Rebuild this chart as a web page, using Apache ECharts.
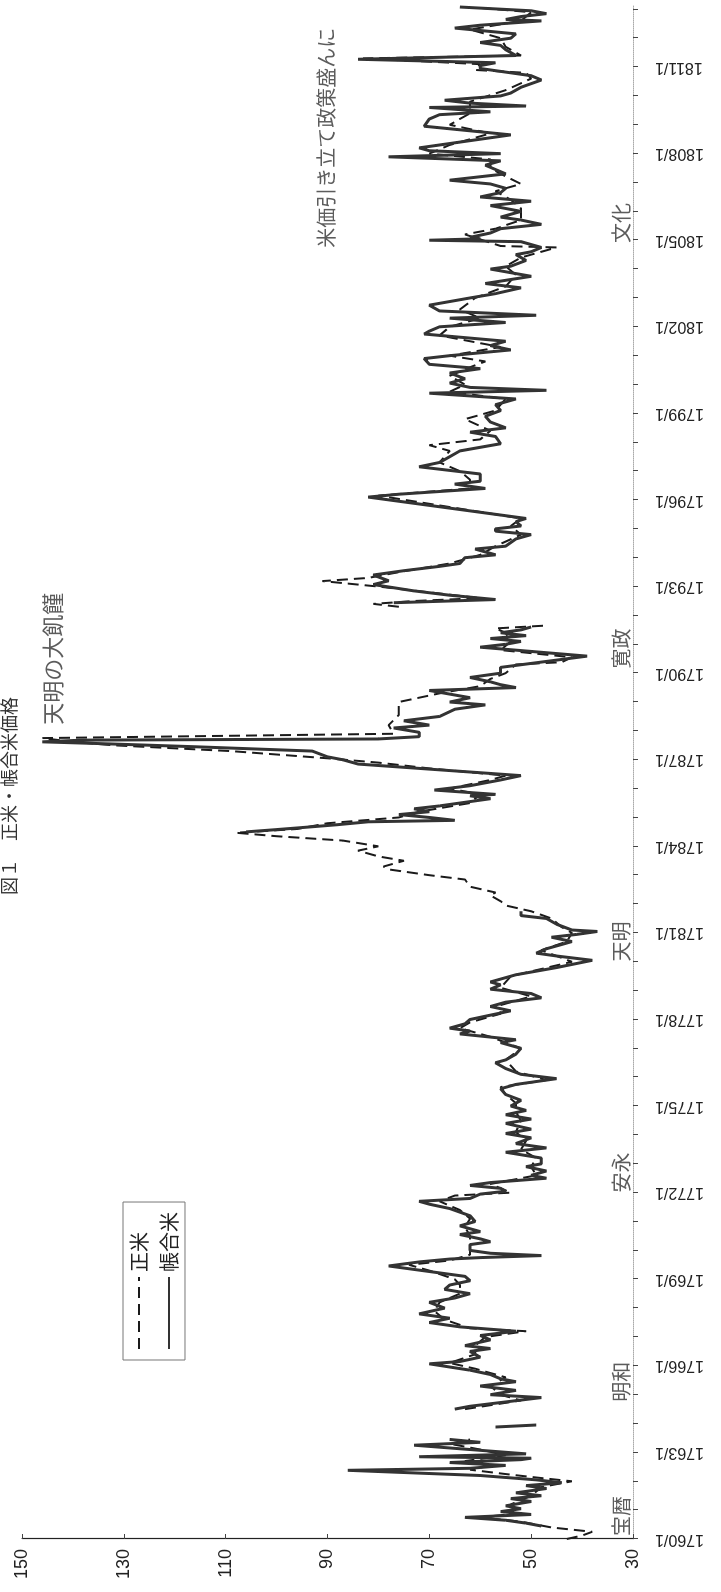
<!DOCTYPE html>
<html lang="ja">
<head>
<meta charset="utf-8">
<title>図１ 正米・帳合米価格</title>
<script src="https://cdn.jsdelivr.net/npm/echarts/dist/echarts.min.js"></script>
<style>
  html, body { margin: 0; padding: 0; background: #fff; overflow: hidden; }
  #page { position: relative; width: 721px; height: 1592px; overflow: hidden; background: #fff; }
  /* the landscape chart is laid on its side, time running bottom to top */
  #chart {
    position: absolute; left: 0; top: 0;
    width: 1592px; height: 721px;
    transform-origin: 0 0;
    transform: translate(0, 1592px) rotate(-90deg);
  }
</style>
</head>
<body>
<div id="page"><div id="chart"></div></div>
<script>
// ---- 帳合米 (rice futures), [year, price]; null marks a gap ----
const choai1760s = [
  [1760.45,48],[1760.55,51],[1760.65,55],[1760.75,63],[1760.85,50],[1760.95,56],[1761.05,52],[1761.15,55],
  [1761.3,50],[1761.4,54],[1761.5,48],[1761.6,53],[1761.75,47],[1761.85,51],[1761.95,44],[1762.05,49],
  [1762.2,60],[1762.38,86],[1762.45,62],[1762.55,55],[1762.65,66],[1762.75,52],[1762.8,50],[1762.85,72],
  [1762.95,51],[1763.1,62],[1763.25,73],[1763.35,60],[1763.45,66],[1763.6,null],[1763.88,57],[1763.95,49],
  [1764.2,null],[1764.5,65],[1764.6,62],[1764.9,48],[1765.0,58],[1765.15,53],[1765.3,60],[1765.45,53],
  [1765.55,56],[1765.7,58],[1765.85,62],[1766.07,70],[1766.15,64],[1766.3,60],[1766.5,62],[1766.6,58],
  [1766.7,63],[1766.9,58],[1767.05,60],[1767.2,53],[1767.35,64],[1767.5,70],[1767.65,66],[1767.8,72],
  [1768.0,67],[1768.2,70],[1768.35,65],[1768.5,62],[1768.65,67],[1768.8,66],[1768.95,62],[1769.1,63],
  [1769.46,78],[1769.6,72],[1769.7,66],[1769.75,60],[1769.82,48],[1769.9,58]
];
const choai1770s = [
  [1770.0,62],[1770.2,62],[1770.3,58],[1770.4,60],[1770.55,64],[1770.65,60],[1770.85,64],[1771.0,61],
  [1771.2,62],[1771.45,66],[1771.6,70],[1771.7,72],[1771.8,62],[1771.95,60],[1772.05,55],[1772.15,56],
  [1772.25,62],[1772.35,58],[1772.5,47],[1772.6,50],[1772.75,47],[1772.9,51],[1773.0,48],[1773.2,48],
  [1773.4,55],[1773.55,47],[1773.7,53],[1773.9,50],[1774.05,55],[1774.2,50],[1774.4,55],[1774.55,50],
  [1774.7,55],[1774.85,51],[1775.0,54],[1775.2,52],[1775.4,55],[1775.6,56],[1775.75,53],[1775.95,45],
  [1776.1,52],[1776.3,55],[1776.5,57],[1776.6,55],[1776.8,53],[1777.0,52],[1777.2,56],[1777.3,53],
  [1777.5,64],[1777.6,62],[1777.7,66],[1777.85,63],[1778.0,62],[1778.15,58],[1778.3,54],[1778.45,58],
  [1778.6,55],[1778.75,48],[1778.9,50],[1779.05,58],[1779.2,56],[1779.3,58],[1779.55,53],[1779.8,45]
];
const choai1780s = [
  [1780.05,38],[1780.2,45],[1780.3,49],[1780.45,47],[1780.6,44],[1780.7,42],[1780.85,46],[1780.95,41],
  [1781.05,37],[1781.1,42],[1781.3,45],[1781.5,47],[1781.6,52],[1781.75,52],[1781.8,null],
  [1784.5,106],[1784.58,100],[1784.65,95],[1784.75,88],[1784.85,82],[1784.9,65],[1785.0,70],[1785.1,76],
  [1785.2,70],[1785.3,73],[1785.4,68],[1785.5,64],[1785.65,58],[1785.75,62],[1785.8,57],[1785.95,69],
  [1786.1,62],[1786.3,56],[1786.45,52],[1786.85,84],[1787.0,87],[1787.1,90],[1787.3,93],[1787.45,116],
  [1787.55,133],[1787.62,146],[1787.68,138],[1787.72,80],[1787.8,72],[1787.95,72],[1788.1,77],[1788.2,70],
  [1788.35,75],[1788.5,68],[1788.75,65],[1788.9,59],[1789.0,66],[1789.15,62],[1789.4,70],[1789.5,53],
  [1789.6,56],[1789.7,58],[1789.85,62]
];
const choai1790s = [
  [1790.0,56],[1790.2,56],[1790.59,39],[1790.9,60],[1791.0,55],[1791.1,52],[1791.2,58],[1791.3,51],
  [1791.4,56],[1791.5,52],[1791.6,50],[1791.65,null],[1792.44,77],[1792.55,57],[1792.7,66],[1792.85,73],
  [1793.07,81],[1793.2,78],[1793.4,81],[1793.55,75],[1793.7,68],[1793.8,64],[1794.0,63],[1794.1,57],
  [1794.3,61],[1794.4,55],[1794.65,53],[1794.8,50],[1794.92,57],[1795.0,57],[1795.1,52],[1795.25,53],
  [1795.36,51],[1796.1,82],[1796.2,76],[1796.4,59],[1796.55,65],[1796.65,60],[1796.9,60],[1797.15,72],
  [1797.3,68],[1797.5,66],[1797.7,64],[1797.95,56],[1798.2,57],[1798.35,62],[1798.5,55],[1798.7,58],
  [1798.9,59],[1799.1,56],[1799.3,57],[1799.5,53],[1799.7,70],[1799.8,47],[1799.9,62]
];
const choai1800s = [
  [1800.05,66],[1800.2,63],[1800.4,66],[1800.55,60],[1800.7,70],[1800.9,71],[1801.0,66],[1801.2,54],
  [1801.35,58],[1801.5,55],[1801.75,71],[1801.85,70],[1802.0,68],[1802.15,55],[1802.3,66],[1802.4,49],
  [1802.55,68],[1802.75,70],[1803.0,62],[1803.15,57],[1803.35,52],[1803.5,59],[1803.75,50],[1804.0,58],
  [1804.1,54],[1804.3,51],[1804.5,53],[1804.6,50],[1804.75,48],[1804.95,52],[1805.0,70],[1805.05,60],
  [1805.1,62],[1805.25,58],[1805.4,56],[1805.55,48],[1805.7,52],[1805.8,56],[1806.0,52],[1806.2,58],
  [1806.35,50],[1806.5,60],[1806.65,56],[1806.8,55],[1806.95,58],[1807.08,66],[1807.3,55],[1807.45,57],
  [1807.6,59],[1807.75,56],[1807.89,78],[1808.0,56],[1808.1,70],[1808.2,72],[1808.3,68],[1808.45,62],
  [1808.65,54],[1808.95,71],[1809.2,70],[1809.35,68],[1809.45,58],[1809.6,70],[1809.65,51],[1809.75,62],
  [1809.85,67]
];
const choai1810s = [
  [1810.0,56],[1810.1,54],[1810.3,52],[1810.55,48],[1810.7,50],[1810.85,56],[1810.95,60],[1811.05,60],
  [1811.15,57],[1811.27,84],[1811.4,53],[1811.6,55],[1811.75,56],[1811.85,60],[1812.0,54],[1812.15,53],
  [1812.35,65],[1812.45,60],[1812.6,48],[1812.65,55],[1812.75,52],[1812.85,47],[1812.95,50],[1813.08,64]
];

// ---- 正米 (spot rice), [year, price]; null marks a gap ----
const shomai1760s = [
  [1760.0,43],[1760.12,40],[1760.25,38],[1760.4,46],[1760.6,52],[1760.75,60],[1760.9,52],[1761.2,54],
  [1761.5,50],[1761.8,48],[1762.0,42],[1762.15,50],[1762.25,55],[1762.4,62],[1762.55,58],[1762.7,63],
  [1762.9,55],[1763.1,60],[1763.3,66],[1763.45,62],[1763.6,null],[1764.5,63],[1764.8,52],[1765.0,56],
  [1765.3,58],[1765.6,55],[1765.9,61],[1766.1,66],[1766.4,61],[1766.7,61],[1767.0,59],[1767.2,51],
  [1767.3,62],[1767.6,67],[1767.9,69],[1768.2,68],[1768.5,64],[1768.8,64],[1769.0,65],[1769.3,70],
  [1769.5,74],[1769.65,66],[1769.75,64],[1769.85,62]
];
const shomai1770s = [
  [1770.1,62],[1770.5,62],[1770.8,63],[1771.1,62],[1771.4,64],[1771.7,68],[1771.9,65],[1772.0,54],
  [1772.3,58],[1772.6,49],[1772.9,50],[1773.2,49],[1773.5,52],[1773.8,51],[1774.1,53],[1774.5,52],
  [1774.8,53],[1775.1,53],[1775.4,55],[1775.66,56],[1775.9,47],[1776.2,53],[1776.6,55],[1777.0,52],
  [1777.4,58],[1777.7,64],[1777.9,62],[1778.2,56],[1778.5,56],[1778.8,50],[1779.1,56],[1779.5,54]
];
const shomai1780s = [
  [1780.0,42],[1780.4,48],[1780.7,43],[1781.0,42],[1781.2,44],[1781.5,46],[1781.75,50],[1781.95,55],
  [1782.1,56],[1782.3,58],[1782.4,57],[1782.6,62],[1782.85,63],[1783.0,70],[1783.2,78],[1783.3,79],
  [1783.5,75],[1783.65,80],[1783.85,84],[1784.0,80],[1784.2,87],[1784.35,100],[1784.47,108],[1784.6,96],
  [1784.8,90],[1785.0,76],[1785.2,72],[1785.5,62],[1785.8,60],[1786.0,66],[1786.3,58],[1786.45,55],
  [1786.7,70],[1786.9,80],[1787.05,90],[1787.3,109],[1787.5,132],[1787.62,140],[1787.75,146],[1787.9,77],
  [1788.2,78],[1788.55,76],[1789.0,76],[1789.3,68],[1789.55,60],[1789.8,58]
];
const shomai1790s = [
  [1790.0,55],[1790.3,53],[1790.38,44],[1790.55,42],[1790.8,56],[1791.1,54],[1791.4,55],[1791.55,57],
  [1791.65,47],[1791.7,null],[1792.3,76],[1792.4,81],[1792.5,73],[1792.6,60],[1792.8,70],[1793.0,80],
  [1793.19,91],[1793.3,82],[1793.5,76],[1793.8,66],[1794.1,60],[1794.4,57],[1794.8,52],[1795.1,54],
  [1795.36,52],[1796.15,80],[1796.4,62],[1796.7,62],[1797.0,64],[1797.3,68],[1797.7,66],[1797.9,70],
  [1798.1,60],[1798.4,58],[1798.8,63],[1799.1,57],[1799.5,55],[1799.75,66]
];
const shomai1800s = [
  [1800.0,63],[1800.3,66],[1800.6,62],[1800.8,59],[1801.0,66],[1801.3,56],[1801.7,68],[1802.0,66],
  [1802.3,60],[1802.6,64],[1803.0,61],[1803.4,55],[1803.8,53],[1804.1,55],[1804.4,52],[1804.75,45],
  [1804.8,56],[1805.2,63],[1805.4,57],[1805.7,52],[1806.1,52],[1806.4,54],[1806.7,57],[1806.95,52],
  [1807.3,56],[1807.5,58],[1807.8,58],[1808.0,70],[1808.3,66],[1808.7,58],[1809.0,66],[1809.4,62],
  [1809.8,62]
];
const shomai1810s = [
  [1810.2,55],[1810.6,50],[1810.8,51],[1810.9,61],[1811.1,60],[1811.3,83],[1811.4,52],[1811.7,55],
  [1812.0,56],[1812.3,62],[1812.6,52],[1812.9,50],[1813.05,60]
];

// ---- axes ----
const dateLabelYears = [1760,1763,1766,1769,1772,1775,1778,1781,1784,1787,1790,1793,1796,1799,1802,1805,1808,1811];
const yearMin = 1760, yearMax = 1813.15;
const priceMin = 30, priceMax = 150, priceStep = 20;

// ---- era names along the time axis ----
const eraNames = ['宝暦','明和','安永','天明','寛政','文化'];
const eraYears = [1760.8, 1765.45, 1772.7, 1780.7, 1790.85, 1805.6];

// ---- notes written inside the plot ----
const noteTexts  = ['天明の大飢饉', '米価引き立て政策盛んに'];
const noteYears  = [1790.5, 1808.55];
const notePrices = [144, 90.3];

const choai  = [].concat(choai1760s, choai1770s, choai1780s, choai1790s, choai1800s, choai1810s);
const shomai = [].concat(shomai1760s, shomai1770s, shomai1780s, shomai1790s, shomai1800s, shomai1810s);

const JP = '"Noto Sans CJK JP", "Noto Sans CJK SC", sans-serif';
const LAT = '"Liberation Sans", Arial, sans-serif';
const noteSizes = [22, 20];

const chart = echarts.init(document.getElementById('chart'), null, { renderer: 'canvas' });
chart.setOption({
  animation: false,
  backgroundColor: '#ffffff',
  title: {
    text: '図１　正米・帳合米価格',
    left: 'center', top: -5,
    textStyle: { fontSize: 18, fontWeight: 'normal', fontFamily: JP, color: '#333' }
  },
  legend: {
    data: ['正米', '帳合米'],
    orient: 'vertical',
    left: 232, top: 123,
    itemWidth: 72, itemHeight: 14, itemGap: 10,
    padding: [6, 10, 6, 10],
    borderColor: '#777', borderWidth: 1,
    itemStyle: { opacity: 0 },
    textStyle: { fontSize: 20, fontFamily: JP, color: '#222' }
  },
  grid: { left: 53, right: 5, top: 22, bottom: 88, containLabel: false, outerBoundsMode: 'none' },
  xAxis: {
    type: 'value', min: yearMin, max: yearMax, interval: 1,
    axisLine: { show: true, lineStyle: { color: '#aaa', width: 1, type: 'dotted' } },
    axisTick: { show: true, length: 5, lineStyle: { color: '#444', width: 1 } },
    axisLabel: {
      rotate: 90, margin: 22, fontSize: 16, fontFamily: LAT, color: '#222',
      showMaxLabel: false,
      formatter: v => {
        const y = Math.round(v);
        return (Math.abs(v - y) < 1e-6 && dateLabelYears.includes(y)) ? y + '/1' : '';
      }
    },
    splitLine: { show: false }
  },
  yAxis: {
    type: 'value', min: priceMin, max: priceMax, interval: priceStep,
    axisLine: { show: true, lineStyle: { color: '#222', width: 1.2 } },
    axisTick: { show: true, inside: true, length: 5, lineStyle: { color: '#444' } },
    axisLabel: { fontSize: 18, margin: 10, fontFamily: LAT, color: '#222' },
    splitLine: { show: false }
  },
  series: [
    {
      name: '正米', type: 'line', data: shomai,
      symbol: 'none', showSymbol: false, connectNulls: false,
      lineStyle: { color: '#1a1a1a', width: 2, type: [11, 6] },
      itemStyle: { color: '#1a1a1a' },
      z: 2
    },
    {
      name: '帳合米', type: 'line', data: choai,
      symbol: 'none', showSymbol: false, connectNulls: false,
      lineStyle: { color: '#333', width: 3 },
      itemStyle: { color: '#333' },
      z: 3
    },
    {
      name: 'era', type: 'scatter', silent: true, z: 4,
      symbolSize: 0,
      data: eraNames.map((n, i) => [eraYears[i], priceMin, n]),
      label: {
        show: true, position: 'top', distance: 2,
        formatter: p => p.data[2],
        fontSize: 20, fontFamily: JP, color: '#333'
      }
    },
    {
      name: 'note', type: 'scatter', silent: true, z: 4,
      symbolSize: 0,
      data: noteTexts.map((t, i) => ({
        value: [noteYears[i], notePrices[i], t],
        label: { fontSize: noteSizes[i] }
      })),
      label: {
        show: true, position: 'inside',
        formatter: p => p.data.value[2],
        fontFamily: JP, color: '#333'
      }
    }
  ]
});
</script>
</body>
</html>
